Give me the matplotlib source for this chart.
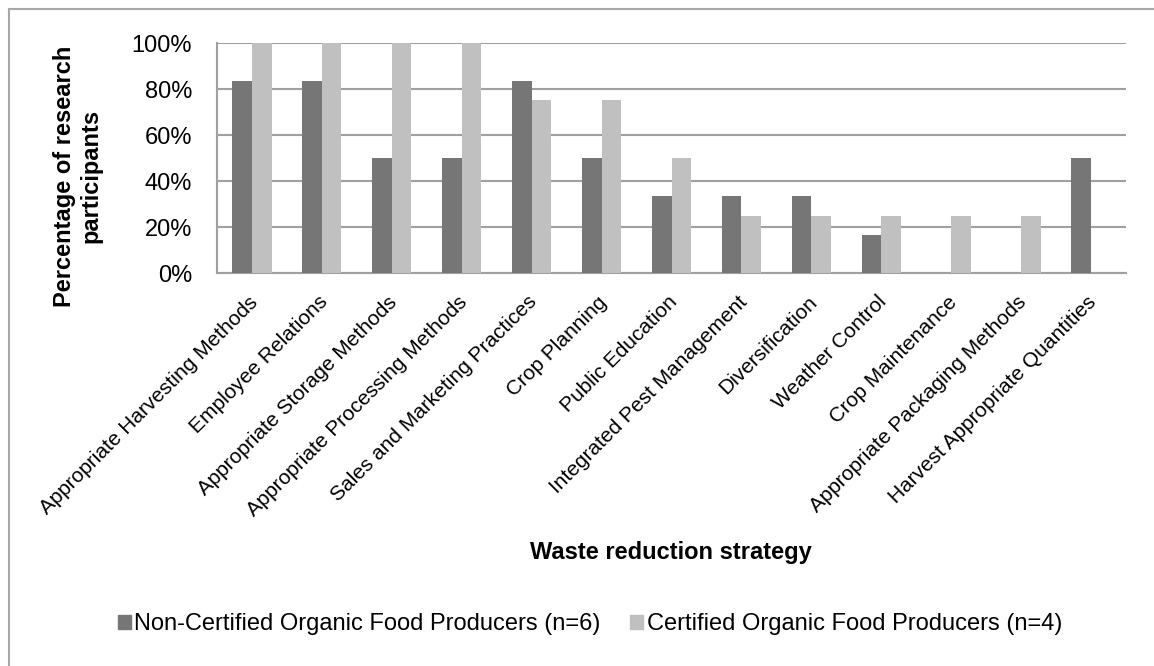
import numpy as np
import matplotlib.pyplot as plt
from matplotlib.patches import Patch
from matplotlib.ticker import PercentFormatter

plt.rcParams["font.family"] = ["Liberation Sans", "DejaVu Sans"]

categories = [
    "Appropriate Harvesting Methods", "Employee Relations", "Appropriate Storage Methods",
    "Appropriate Processing Methods", "Sales and Marketing Practices", "Crop Planning",
    "Public Education", "Integrated Pest Management", "Diversification", "Weather Control",
    "Crop Maintenance", "Appropriate Packaging Methods", "Harvest Appropriate Quantities",
]
non_certified = [83.3, 83.3, 50, 50, 83.3, 50, 33.3, 33.3, 33.3, 16.7, 0, 0, 50]
certified = [100, 100, 100, 100, 75, 75, 50, 25, 25, 25, 25, 25, 0]
series_names = ["Non-Certified Organic Food Producers (n=6)",
                "Certified Organic Food Producers (n=4)"]

DARK = "#767676"
LIGHT = "#C0C0C0"
GRID = "#A0A0A0"

W, H = 1154, 666
fig = plt.figure(figsize=(W / 100, H / 100), dpi=100)
ax = fig.add_axes([217 / W, 1 - 273 / H, (1126 - 217) / W, (273 - 43) / H])

# outer chart frame (left + top edges visible)
fig.add_artist(plt.Line2D([8.5 / W, 8.5 / W], [0, 1 - 9 / H], color="#A8A8A8", lw=1.5))
fig.add_artist(plt.Line2D([8.5 / W, 1], [1 - 9 / H, 1 - 9 / H], color="#A8A8A8", lw=1.5))

x = np.arange(len(categories))
bw = 0.28
ax.bar(x - bw / 2, non_certified, bw, color=DARK, zorder=3)
ax.bar(x + bw / 2, certified, bw, color=LIGHT, zorder=3)

ax.set_xlim(-0.5, len(categories) - 0.5)
ax.set_ylim(0, 100)
ax.set_yticks(range(0, 101, 20))
ax.yaxis.set_major_formatter(PercentFormatter(decimals=0))
ax.grid(axis="y", color=GRID, lw=1.5, zorder=0)
ax.set_axisbelow(True)
for s in ["top", "right"]:
    ax.spines[s].set_visible(False)
for s in ["left", "bottom"]:
    ax.spines[s].set_color(GRID)
    ax.spines[s].set_linewidth(1.5)
ax.tick_params(axis="both", length=0)
ax.tick_params(axis="y", labelsize=17, pad=18)
ax.set_xticks(x - 0.06)
ax.set_xticklabels(categories, rotation=45, ha="right", rotation_mode="anchor", fontsize=15)
ax.tick_params(axis="x", pad=14)

fig.text(78 / W, 1 - 176 / H, "Percentage of research\nparticipants", rotation=90,
         ha="center", va="center", fontsize=17, fontweight="bold", linespacing=1.2)
fig.text(671 / W, 1 - 553 / H, "Waste reduction strategy", ha="center", va="center",
         fontsize=17, fontweight="bold")

handles = [Patch(color=DARK), Patch(color=LIGHT)]
fig.legend(handles, series_names, loc="center", bbox_to_anchor=(590 / W, 1 - 624 / H),
           ncol=2, frameon=False, fontsize=17, handlelength=0.55, handleheight=0.55,
           handletextpad=0.13, columnspacing=1.27, borderpad=0, borderaxespad=0)

fig.savefig("out.png", dpi=100)
